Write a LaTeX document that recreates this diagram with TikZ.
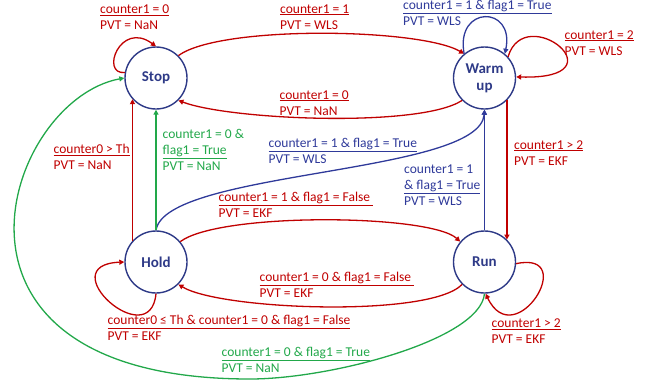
\documentclass[tikz,border=0pt]{standalone}
\usepackage{fontspec}
\setmainfont{Carlito}
\usepackage{tikz}
\usetikzlibrary{arrows.meta,positioning}

\definecolor{stred}{HTML}{C00000}
\definecolor{stblue}{HTML}{2F3A9A}
\definecolor{stgreen}{HTML}{22A84A}
\definecolor{stnode}{HTML}{2E3A87}

\begin{document}
\begin{tikzpicture}[x=1pt,y=-1pt,
    state/.style={circle, draw=stnode, line width=1.4pt, minimum size=62pt, inner sep=0pt,
      text=stnode, align=center, font=\fontsize{15}{17}\selectfont\bfseries},
    tr/.style={line width=1.3pt, -{Triangle[length=5pt,width=5pt]}},
    lbl/.style={anchor=base west, inner sep=0pt, align=left, font=\fontsize{13.5}{16}\selectfont}]
    \useasboundingbox (0,0) rectangle (655,388);

    % states
    \node[state] (stop) at (156,78) {Stop};
    \node[state] (warm) at (484.5,78) {Warm\\up};
    \node[state] (hold) at (156,262) {Hold};
    \node[state] (run) at (484.5,262) {Run};

    % red transitions
    \draw[tr, stred] (stop.170) .. controls (100,75) and (120,20) .. (stop.north);
    \draw[tr, stred] (stop.45) .. controls (220,25) and (420,28) .. (warm.130);
    \draw[tr, stred] (warm.225) .. controls (420,128) and (230,120) .. (stop.315);
    \draw[tr, stred] (warm.42) .. controls (525,0) and (625,80) .. (warm.2);
    \draw[tr, stred] (warm.-45) -- (run.45);
    \draw[tr, stred] (hold.40) .. controls (220,212) and (430,214) .. (run.140);
    \draw[tr, stred] (run.225) .. controls (430,318) and (220,310) .. (hold.315);
    \draw[tr, stred] (hold.south) .. controls (150,355) and (50,265) .. (hold.west);
    \draw[tr, stred] (hold.138) -- (stop.222);
    \draw[tr, stred] (run.-3) .. controls (580,250) and (515,355) .. (run.-88);

    % blue transitions
    \draw[tr, stblue] (warm.130) .. controls (455,5) and (515,5) .. (warm.50);
    \draw[tr, stblue] (run.north) -- (warm.south);
    \draw[tr, stblue] (hold.north) .. controls (165,170) and (480,175) .. (warm.south);

    % green transitions
    \draw[tr, stgreen] (hold.north) -- (stop.south);
    \coordinate (gbot) at (250,379);
    \draw[tr, stgreen] (run.south) .. controls (480,340) and (330,379) .. (gbot)
        .. controls (-90,379) and (5,100) .. (stop.west);

    % labels (placed at the baseline of their last line)
    \node[lbl, text=stred] (lstop) at (100,29.5) {\underline{counter1 = 0}\\PVT = NaN};
    \node[lbl, text=stred] (lstopwarm) at (280,29) {\underline{counter1 = 1}\\PVT = WLS};
    \node[lbl, text=stblue] (lwarm) at (403,25) {\underline{counter1 = 1 \& flag1 = True}\\PVT = WLS};
    \node[lbl, text=stred] (lwarmtwo) at (564.5,55) {\underline{counter1 = 2}\\PVT = WLS};
    \node[lbl, text=stred] (lwarmstop) at (279.5,115) {\underline{counter1 = 0}\\PVT = NaN};
    \node[lbl, text=stred] (lholdstop) at (53.5,169.5) {\underline{counter0 > Th}\\PVT = NaN};
    \node[lbl, text=stgreen] (lholdstopg) at (162.5,170) {counter1 = 0 \&\\\underline{flag1 = True}\\PVT = NaN};
    \node[lbl, text=stblue] (lholdwarm) at (268.5,163.5) {\underline{counter1 = 1 \& flag1 = True}\\PVT = WLS};
    \node[lbl, text=stred] (lwarmrun) at (514,165) {\underline{counter1 > 2}\\PVT = EKF};
    \node[lbl, text=stblue] (lrunwarm) at (404,205) {counter1 = 1\\\underline{\& flag1 = True}\\PVT = WLS};
    \node[lbl, text=stred] (lholdrun) at (218.5,217) {\underline{counter1 = 1 \& flag1 = False\ }\\PVT = EKF};
    \node[lbl, text=stred] (lrunhold) at (259.5,297.5) {\underline{counter1 = 0 \& flag1 = False\ }\\PVT = EKF};
    \node[lbl, text=stred] (lhold) at (107.5,340) {\underline{counter0 ≤ Th \& counter1 = 0 \& flag1 = False}\\PVT = EKF};
    \node[lbl, text=stgreen] (lrunstop) at (221.5,372) {\underline{counter1 = 0 \& flag1 = True}\\PVT = NaN};
    \node[lbl, text=stred] (lrun) at (491.5,343.5) {\underline{counter1 > 2}\\PVT = EKF};
\end{tikzpicture}
\end{document}
